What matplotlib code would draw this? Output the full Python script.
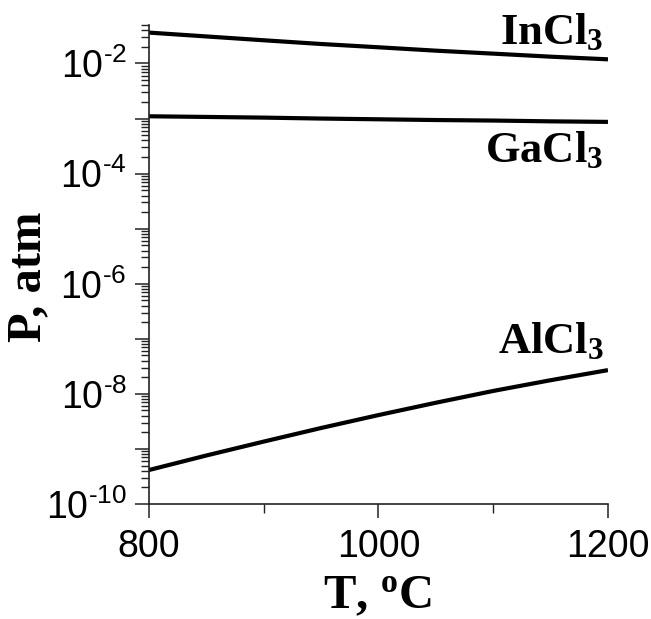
import numpy as np
import matplotlib
matplotlib.use('Agg')
import matplotlib.pyplot as plt
from matplotlib.ticker import LogLocator, FuncFormatter, FixedLocator

# 数据：温度 (°C) 与饱和蒸气压 (atm)
T = [800, 850, 900, 950, 1000, 1050, 1100, 1150, 1200]
p_incl3 = [3.64e-2, 3.1e-2, 2.64e-2, 2.26e-2, 1.97e-2, 1.71e-2, 1.51e-2, 1.33e-2, 1.19e-2]
p_gacl3 = [1.10e-3, 1.07e-3, 1.04e-3, 1.0e-3, 9.7e-4, 9.4e-4, 9.2e-4, 8.9e-4, 8.7e-4]
p_alcl3 = [4.14e-10, 7.6e-10, 1.36e-9, 2.4e-9, 4.12e-9, 6.9e-9, 1.13e-8, 1.77e-8, 2.70e-8]

labels = ['InCl$_3$', 'GaCl$_3$', 'AlCl$_3$']
label_y = [2.3e-2, 1.63e-4, 5.5e-8]

plt.rcParams['font.family'] = ['Liberation Sans', 'DejaVu Sans']
plt.rcParams['mathtext.default'] = 'regular'

fig = plt.figure(figsize=(6.51, 6.19), dpi=100)
ax = fig.add_axes([0.2289, 0.1858, 0.705, 0.7738])

for p in (p_incl3, p_gacl3, p_alcl3):
    ax.plot(T, p, color='black', lw=3, solid_capstyle='butt')

ax.set_yscale('log')
ax.set_xlim(800, 1200)
ax.set_ylim(1e-10, 5e-2)

# 刻度
ax.xaxis.set_major_locator(FixedLocator([800, 1000, 1200]))
ax.xaxis.set_minor_locator(FixedLocator([900, 1100]))
ax.yaxis.set_major_locator(LogLocator(base=10, subs=(1.0,), numticks=20))
ax.yaxis.set_minor_locator(LogLocator(base=10, subs=np.arange(2, 10), numticks=20))


def fmt(v, pos):
    e = int(round(np.log10(v)))
    if e % 2:
        return ''
    return '10$^{\u2010%d}$' % abs(e)


ax.yaxis.set_major_formatter(FuncFormatter(fmt))
ax.yaxis.set_minor_formatter(FuncFormatter(lambda v, pos: ''))

ax.tick_params(axis='both', which='major', direction='out', length=10, width=1.1,
               labelsize=27, color='#222222')
ax.tick_params(axis='both', which='minor', direction='out', length=6, width=1.0,
               color='#222222')
ax.tick_params(axis='x', which='major', pad=8)
ax.tick_params(axis='x', which='minor', length=6.5)
ax.tick_params(axis='y', which='major', pad=6)

for s in ('top', 'right'):
    ax.spines[s].set_visible(False)
for s in ('left', 'bottom'):
    ax.spines[s].set_linewidth(1.2)
    ax.spines[s].set_color('#222222')

# 曲线标注
for lab, y in zip(labels, label_y):
    ax.text(1196, y, lab, ha='right', va='baseline', fontsize=32,
            fontweight='bold', family='Liberation Serif')

# 坐标轴标题
fig.text(28.6 / 651, 1 - 277 / 619, 'P, atm', rotation=90, ha='center', va='center',
         fontsize=35, fontweight='bold', family='Liberation Serif')
fig.text(377 / 651, 1 - 608 / 619, 'T, $^o$C', ha='center', va='baseline',
         fontsize=35, fontweight='bold', family='Liberation Serif')

fig.savefig('out.png', dpi=100)
